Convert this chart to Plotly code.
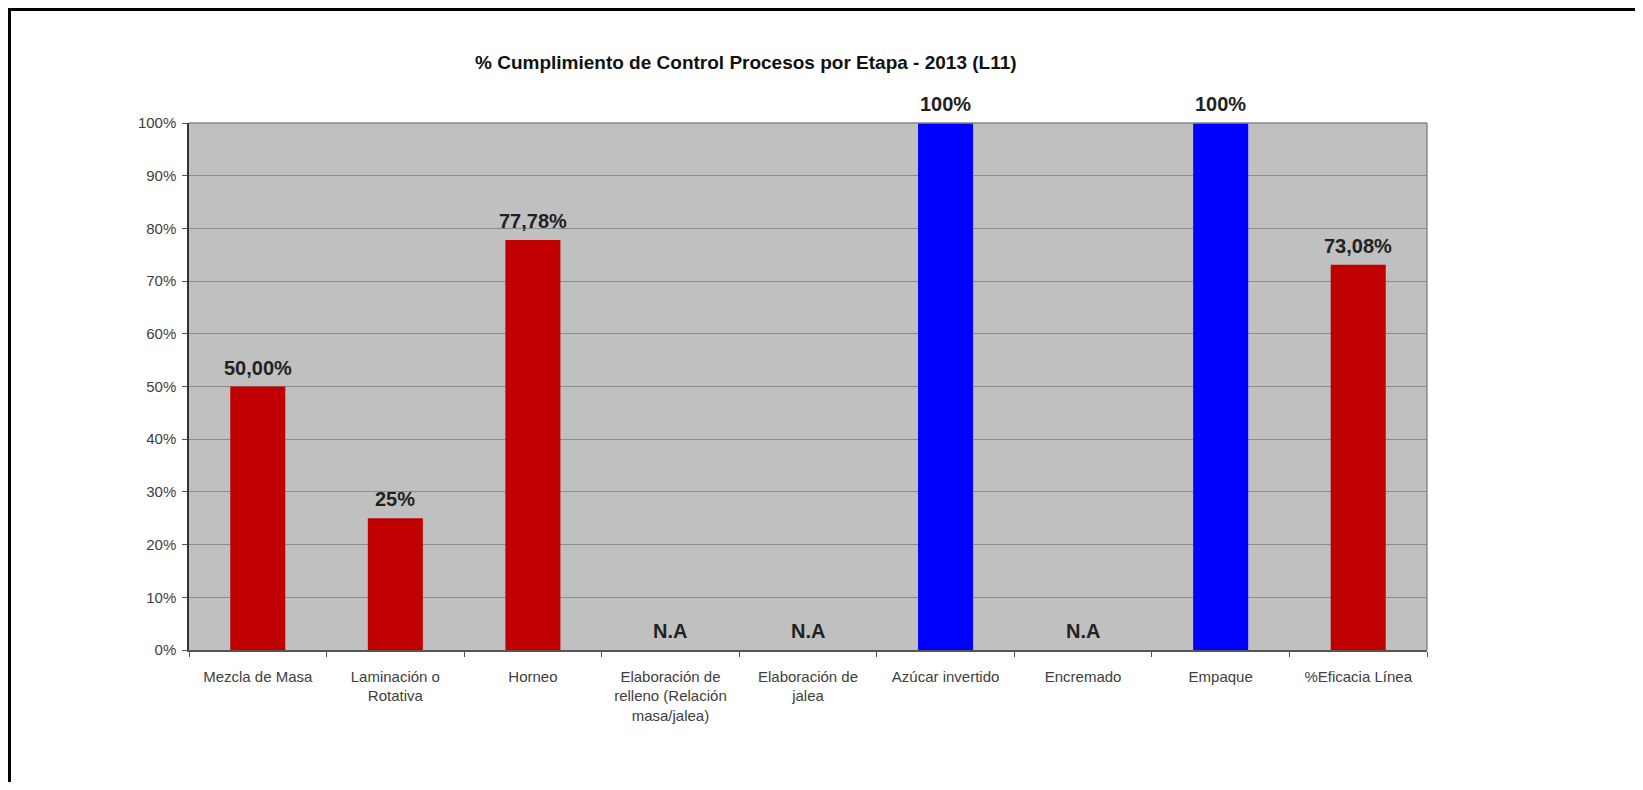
import plotly.graph_objects as go

categories = [
    "Mezcla de Masa",
    "Laminación o<br>Rotativa",
    "Horneo",
    "Elaboración de<br>relleno (Relación<br>masa/jalea)",
    "Elaboración de<br>jalea",
    "Azúcar invertido",
    "Encremado",
    "Empaque",
    "%Eficacia Línea",
]
values = [0.50, 0.25, 0.7778, 0, 0, 1.00, 0, 1.00, 0.7308]
labels = ["50,00%", "25%", "77,78%", "N.A", "N.A", "100%", "N.A", "100%", "73,08%"]
bar_colors = ["#C00000", "#C00000", "#C00000", "#C00000", "#C00000",
              "#0000FF", "#C00000", "#0000FF", "#C00000"]
y_ticks = [0, 0.1, 0.2, 0.3, 0.4, 0.5, 0.6, 0.7, 0.8, 0.9, 1.0]
y_tick_text = ["0%", "10%", "20%", "30%", "40%", "50%", "60%", "70%", "80%", "90%", "100%"]
title_text = "% Cumplimiento de Control Procesos por Etapa - 2013 (L11)"

# the page body adds an 8px offset; figure coordinates below are page - 8
W, H = 1632, 774
PW, PH = 1238, 527
L, T = 181, 115
R, B = W - L - PW, H - T - PH


def px(x):
    return (x - L) / PW


def py(y):
    return 1 - (y - T) / PH


fig = go.Figure()
fig.add_trace(go.Bar(
    x=categories,
    y=values,
    marker=dict(color=bar_colors, line=dict(width=0)),
    hoverinfo="skip",
))

for cat, val, lab in zip(categories, values, labels):
    fig.add_annotation(
        x=cat, y=val, text="<b>" + lab + "</b>",
        xref="x", yref="y", yanchor="bottom", xanchor="center",
        yshift=6, showarrow=False,
        font=dict(family="Liberation Sans, Arial", size=20, color="#222222"),
    )

fig.update_layout(
    width=W,
    height=H,
    margin=dict(l=L, r=R, t=T, b=B),
    paper_bgcolor="white",
    plot_bgcolor="#C0C0C0",
    bargap=0.6,
    showlegend=False,
    font=dict(family="Liberation Sans, Arial", size=15, color="#404040"),
)

fig.update_xaxes(
    type="category",
    showline=True, linecolor="#555555", linewidth=1.5, mirror=False,
    ticks="outside", tickson="boundaries", ticklen=5, tickcolor="#555555",
    tickfont=dict(size=15, color="#404040"),
    ticklabelstandoff=12,
    showgrid=False,
)
fig.update_yaxes(
    range=[0, 1],
    tickvals=y_ticks, ticktext=y_tick_text,
    showline=True, linecolor="#333333", linewidth=1.5,
    ticks="outside", ticklen=5, tickcolor="#555555",
    tickfont=dict(size=15, color="#404040"),
    ticklabelstandoff=3,
    showgrid=True, gridcolor="#8C8C8C", gridwidth=1,
    zeroline=False,
)

# plot area top and right border
fig.add_shape(type="line", xref="paper", yref="paper", x0=0, x1=1, y0=1, y1=1,
              line=dict(color="#888888", width=1.5))
fig.add_shape(type="line", xref="paper", yref="paper", x0=1, x1=1, y0=0, y1=1,
              line=dict(color="#888888", width=1.5))

# outer frame
fig.add_shape(type="line", xref="paper", yref="paper", x0=px(0), x1=px(1632), y0=py(1.5), y1=py(1.5),
              line=dict(color="black", width=3))
fig.add_shape(type="line", xref="paper", yref="paper", x0=px(1.5), x1=px(1.5), y0=py(0), y1=py(774),
              line=dict(color="black", width=3))
fig.add_shape(type="line", xref="paper", yref="paper", x0=px(1630), x1=px(1630), y0=py(3), y1=py(774),
              line=dict(color="#D5D5D5", width=1.5))

fig.add_annotation(
    text="<b>" + title_text + "</b>",
    xref="paper", yref="paper", x=px(738), y=py(54),
    xanchor="center", yanchor="middle", showarrow=False,
    font=dict(family="Liberation Sans, Arial", size=19, color="#111111"),
)

fig.write_html("out.html")
